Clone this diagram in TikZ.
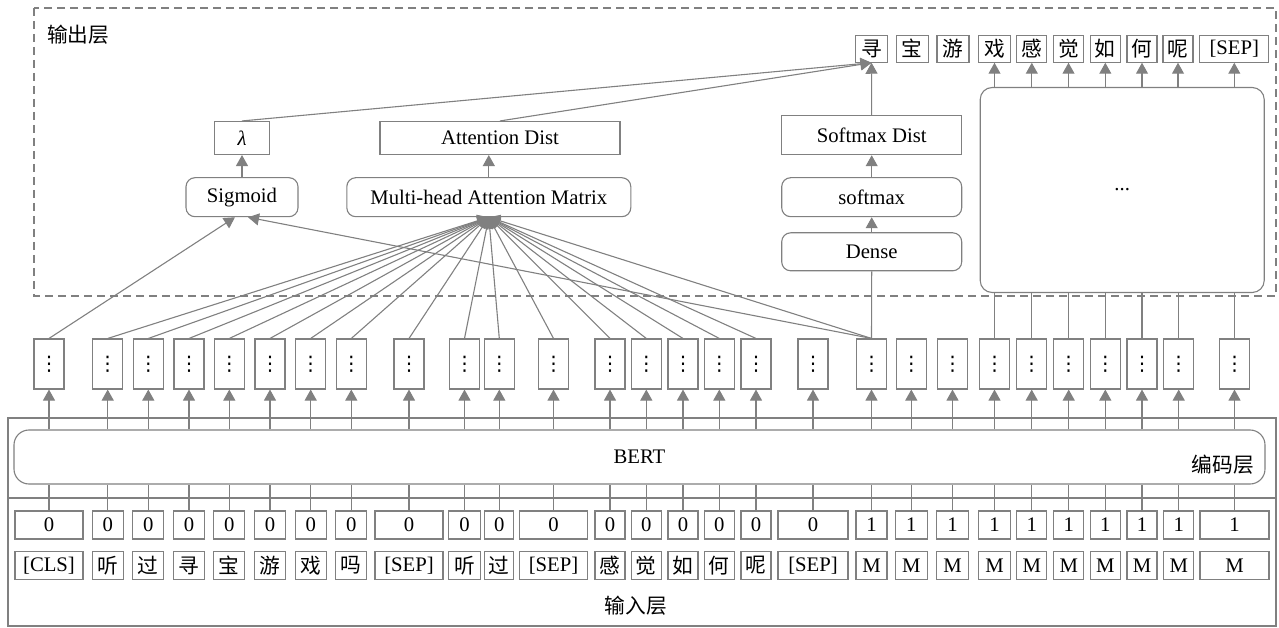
\documentclass[tikz,border=0pt]{standalone}
\usepackage{fontspec}
\setmainfont{Liberation Serif}
\newfontfamily\cjk{Noto Sans CJK SC}
\newfontfamily\sym{DejaVu Sans}
\usepackage{xcolor}
\usepackage{tikz}
\usetikzlibrary{arrows.meta}
\definecolor{linegray}{RGB}{128,128,128}

\begin{document}
\begin{tikzpicture}[x=1pt, y=-1pt, >={Triangle[length=11pt,width=12pt]},
    every node/.style={font=\fontsize{20.7}{24}\selectfont, inner sep=0pt},
    line/.style={draw=linegray, line width=1.1pt},
    cell/.style={line, minimum width=31pt, minimum height=28pt},
    vec/.style={line, minimum width=30pt, minimum height=50pt, font=\fontsize{20}{24}\selectfont\sym},
    rbox/.style={line, rounded corners=9pt, minimum height=39pt},
    sbox/.style={line, minimum height=33pt}]
    \useasboundingbox (0,0) rectangle (1279,628);

    % 输出层 / 编码层 / 输入层 外框
    \draw[line, dash pattern=on 8pt off 5pt] (34,8) rectangle (1276,296);
    \node[anchor=west] (outlbl) at (47,35) {\cjk 输出层};
    \draw[line] (8,418) rectangle (1276,626);
    \draw[line] (8,498) -- (1276,498);
    \node (inlbl) at (636,606) {\cjk 输入层};
    \node[line, rounded corners=15pt, minimum width=1251pt, minimum height=54pt] (bert) at (639.5,457) {BERT};
    \node[anchor=east] (enclbl) at (1254,465) {\cjk 编码层};

    % 输入序列、段落标记和 BERT 输出向量
    \foreach \i/\x/\t/\s/\w in {
        1/49/{[CLS]}/0/68, 2/107.7/{\cjk 听}/0/31, 3/148.3/{\cjk 过}/0/31, 4/189/{\cjk 寻}/0/31,
        5/229.3/{\cjk 宝}/0/31, 6/270/{\cjk 游}/0/31, 7/310.7/{\cjk 戏}/0/31, 8/351.3/{\cjk 吗}/0/31,
        9/409/{[SEP]}/0/68, 10/464.5/{\cjk 听}/0/32, 11/499.3/{\cjk 过}/0/29, 12/553.5/{[SEP]}/0/68,
        13/610/{\cjk 感}/0/30, 14/646.3/{\cjk 觉}/0/30, 15/683/{\cjk 如}/0/30, 16/719.3/{\cjk 何}/0/30,
        17/756/{\cjk 呢}/0/30, 18/813/{[SEP]}/0/70, 19/871.5/M/1/31, 20/911.3/M/1/32,
        21/952.5/M/1/32, 22/994.5/M/1/32, 23/1031.7/M/1/30, 24/1068.7/M/1/30,
        25/1105.3/M/1/30, 26/1142/M/1/30, 27/1178.7/M/1/30, 28/1234.5/M/1/69} {
        \node[cell, minimum width=\w pt] (seg\i) at (\x,525) {\s};
        \node[cell, minimum width=\w pt] (tok\i) at (\x,565.5) {\t};
        \node[vec] (vec\i) at (\x,364) {⋮};
        \draw[line] (seg\i.north) -- (seg\i.north |- bert.south);
        \draw[line, ->] (vec\i.south |- bert.north) -- (vec\i.south);
    }

    % 输出序列
    \foreach \i/\x/\t/\w in {
        19/871.5/{\cjk 寻}/32, 20/912.3/{\cjk 宝}/32, 21/953/{\cjk 游}/32, 22/994.5/{\cjk 戏}/32,
        23/1031.8/{\cjk 感}/30, 24/1068.5/{\cjk 觉}/30, 25/1105.3/{\cjk 如}/30, 26/1142/{\cjk 何}/30,
        27/1178/{\cjk 呢}/30, 28/1234.3/{[SEP]}/69} {
        \node[cell, minimum width=\w pt, minimum height=27pt] (out\i) at (\x,48.7) {\t};
    }

    % 指针网络部分
    \node[sbox, minimum width=55pt] (lam) at (242,138) {\itshape λ};
    \node[rbox, minimum width=112pt] (sig) at (242,197.2) {Sigmoid};
    \node[sbox, minimum width=240pt] (adist) at (500,138) {Attention Dist};
    \node[rbox, minimum width=284pt] (mha) at (488.8,197.2) {Multi-head Attention Matrix};

    % 生成部分
    \node[line, minimum width=180pt, minimum height=39pt] (sdist) at (871.7,135.2) {Softmax Dist};
    \node[rbox, minimum width=180pt] (soft) at (871.7,197.2) {softmax};
    \node[rbox, minimum width=180pt, minimum height=38pt] (dense) at (871.7,251.8) {Dense};
    \node[line, rounded corners=12pt, minimum width=284pt, minimum height=205pt] (big) at (1122.2,190) {...};

    % 连线
    \draw[line, ->] (vec1.north) -- ([xshift=-7pt]sig.south);
    \draw[line, ->] (vec19.north) -- ([xshift=6pt]sig.south);
    \foreach \i in {2,...,17,19}
        \draw[line, ->] (vec\i.north) -- (mha.south);
    \draw[line] (vec19.north) -- (dense.south);
    \draw[line, ->] (dense) -- (soft);
    \draw[line, ->] (soft) -- (sdist);
    \draw[line, ->] (sdist) -- (out19);
    \draw[line, ->] (sig) -- (lam);
    \draw[line, ->] (mha.north) -- (mha.north |- adist.south);
    \draw[line, ->] (lam.north) -- (out19.south);
    \draw[line, ->] (adist.north) -- (out19.south);
    \foreach \i in {22,...,28} {
        \draw[line] (vec\i.north) -- (vec\i.north |- big.south);
        \draw[line, ->] (out\i.south |- big.north) -- (out\i.south);
    }
\end{tikzpicture}
\end{document}
